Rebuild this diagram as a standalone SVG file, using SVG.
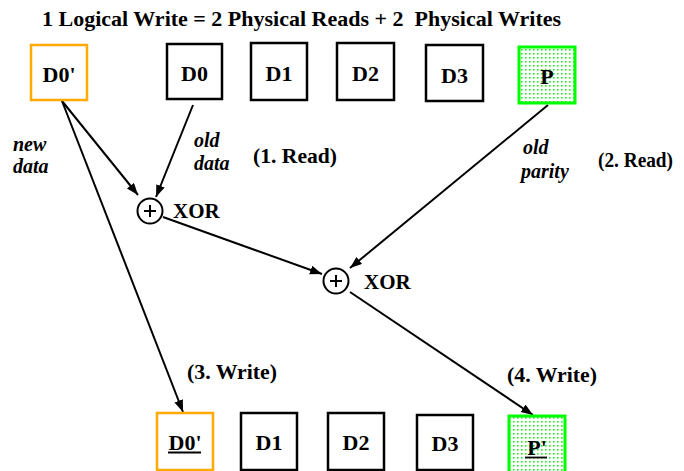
<svg xmlns="http://www.w3.org/2000/svg" width="684" height="471" viewBox="0 0 684 471">
<style>
text{font-family:"Liberation Serif","Times New Roman",serif;font-weight:bold;font-size:21px;fill:#000}
.it{font-style:italic;font-size:20px}
.lbl{text-anchor:middle;font-size:22px}
.box{fill:#fff;stroke:#000;stroke-width:2.5}
.org{fill:#fff;stroke:#FFAA00;stroke-width:2.5}
.grn{fill:url(#dots);stroke:#00FF00;stroke-width:3}
.ln{stroke:#000;stroke-width:2;fill:none}
.arr{stroke:#000;stroke-width:2;fill:none;marker-end:url(#ah)}
.ul{stroke:#000;stroke-width:1.8}
</style>
<defs>
<marker id="ah" markerUnits="userSpaceOnUse" markerWidth="13" markerHeight="10" refX="12" refY="4.5" orient="auto">
<path d="M0,0 L12,4.5 L0,9 z" fill="#000"/>
</marker>
<pattern id="dots" patternUnits="userSpaceOnUse" width="4" height="4">
<rect width="4" height="4" fill="#fff"/>
<rect x="1" y="1" width="1.6" height="1.6" fill="#22ee22"/>
</pattern>
</defs>
<rect width="684" height="471" fill="#fff"/>
<text x="42" y="26" xml:space="preserve" style="font-size:22px">1 Logical Write = 2 Physical Reads + 2  Physical Writes</text>

<g id="connectors">
<path class="arr" d="M62,101 L138,195"/>
<path class="arr" d="M193,105 L156,197"/>
<path class="arr" d="M62,101 L183,412"/>
<path class="arr" d="M163,217 L322,274"/>
<path class="arr" d="M548,105 L350,268"/>
<path class="arr" d="M350,292 L533,415"/>
</g>

<g id="top-d0new"><rect class="org" x="31" y="45" width="56" height="55"/><text class="lbl" x="59" y="82">D0'</text></g>
<g id="top-d0"><rect class="box" x="167" y="44" width="55" height="55"/><text class="lbl" x="194.5" y="81">D0</text></g>
<g id="top-d1"><rect class="box" x="251" y="43" width="56" height="57"/><text class="lbl" x="279" y="81">D1</text></g>
<g id="top-d2"><rect class="box" x="337" y="43" width="57" height="57"/><text class="lbl" x="365.5" y="81">D2</text></g>
<g id="top-d3"><rect class="box" x="426" y="45" width="57" height="56"/><text class="lbl" x="454.5" y="83">D3</text></g>
<g id="top-p"><rect class="grn" x="519" y="47" width="56" height="56"/><text class="lbl" x="547" y="84">P</text></g>

<g id="xor1">
<circle cx="150" cy="211" r="12.5" fill="#fff" stroke="#000" stroke-width="2"/>
<path class="ln" d="M144,211 H156 M150,205 V217" stroke-width="1.3"/>
<text x="173" y="218">XOR</text>
</g>
<g id="xor2">
<circle cx="336" cy="281" r="12.5" fill="#fff" stroke="#000" stroke-width="2"/>
<path class="ln" d="M330,281 H342 M336,275 V287" stroke-width="1.3"/>
<text x="364" y="289">XOR</text>
</g>

<g id="labels">
<text class="it" x="13" y="151">new</text>
<text class="it" x="13" y="173">data</text>
<text class="it" x="194" y="147">old</text>
<text class="it" x="194" y="170">data</text>
<text x="253" y="163" textLength="84" lengthAdjust="spacingAndGlyphs">(1. Read)</text>
<text class="it" x="523" y="154">old</text>
<text class="it" x="521" y="178">parity</text>
<text x="598" y="167" textLength="75" lengthAdjust="spacingAndGlyphs">(2. Read)</text>
<text x="187" y="379" textLength="90" lengthAdjust="spacingAndGlyphs">(3. Write)</text>
<text x="507" y="382" textLength="90" lengthAdjust="spacingAndGlyphs">(4. Write)</text>
</g>

<g id="bot-d0new"><rect class="org" x="157" y="413" width="56" height="57"/><text class="lbl" x="185" y="450">D0'</text><line class="ul" x1="168" y1="452.5" x2="201" y2="452.5"/></g>
<g id="bot-d1"><rect class="box" x="241" y="413" width="56" height="57"/><text class="lbl" x="269" y="450">D1</text></g>
<g id="bot-d2"><rect class="box" x="328" y="413" width="56" height="57"/><text class="lbl" x="356" y="450">D2</text></g>
<g id="bot-d3"><rect class="box" x="417" y="415" width="56" height="55"/><text class="lbl" x="445" y="451">D3</text></g>
<g id="bot-p"><rect class="grn" x="509" y="416" width="56" height="57"/><text class="lbl" x="537" y="455">P'</text><line class="ul" x1="525" y1="457.5" x2="547" y2="457.5"/></g>
</svg>
